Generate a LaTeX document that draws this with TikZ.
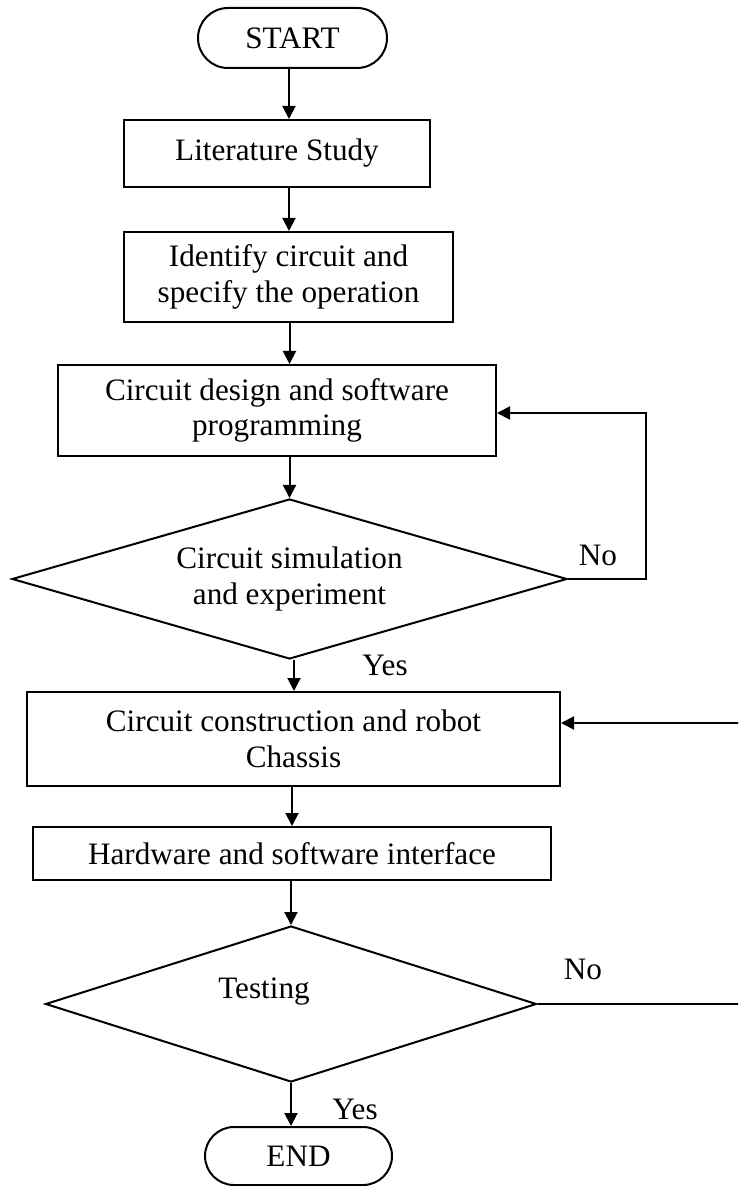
\documentclass[tikz,border=0pt]{standalone}
\usepackage{fontspec}
\setmainfont{Liberation Serif}
\usetikzlibrary{shapes.geometric,shapes.misc,arrows.meta}

\tikzset{
  base/.style={draw, line width=1pt, inner sep=0pt, align=center,
    font=\fontsize{15.6}{17.8}\selectfont},
  term/.style={base, rounded rectangle},
  procbox/.style={base, rectangle},
  decision/.style={base, diamond},
  lbl/.style={font=\fontsize{15.6}{17.8}\selectfont, inner sep=0pt},
  arr/.style={line width=1pt, -{Triangle[length=6.5pt,width=6.5pt]}},
  conn/.style={line width=1pt}
}

\begin{document}
\begin{tikzpicture}[x=0.5pt,y=-0.5pt]
  % canvas
  \clip (0,0) rectangle (738,1186);
  \fill[white] (0,0) rectangle (738,1186);

  % process chain
  \node[term, minimum width=94.5pt, minimum height=30pt] (start) at (292.5,38) {START};
  \node[procbox, minimum width=153pt, minimum height=33.5pt] (lit) at (277,153.5) {Literature Study};
  \node[procbox, minimum width=164.5pt, minimum height=45pt] (ident) at (288.5,277)
    {Identify circuit and\\specify the operation};
  \node[procbox, minimum width=219pt, minimum height=45.5pt] (design) at (277,410.5)
    {Circuit design and software\\programming};
  \node[decision, minimum width=277.5pt, minimum height=80pt, aspect=3.47] (sim) at (289.5,579)
    {Circuit simulation\\and experiment};
  \node[procbox, minimum width=266.5pt, minimum height=47pt] (build) at (293.5,739)
    {Circuit construction and robot\\Chassis};
  \node[procbox, minimum width=259pt, minimum height=26.5pt] (hw) at (292,853.5)
    {Hardware and software interface};
  \node[decision, minimum width=245.5pt, minimum height=78pt, aspect=3.15] (test) at (291,1004) {};
  \node[lbl] (testtxt) at (264,992) {Testing};
  \node[term, minimum width=93.5pt, minimum height=29pt] (end) at (298.5,1156) {END};

  % branch labels
  \node[lbl] (no1) at (598,555) {No};
  \node[lbl] (yes1) at (385,665) {Yes};
  \node[lbl] (no2) at (583,969) {No};
  \node[lbl] (yes2) at (355,1109) {Yes};

  % main flow
  \draw[arr] (start.south -| 289,0) -- (289,0 |- lit.north);
  \draw[arr] (lit.south -| 289,0) -- (289,0 |- ident.north);
  \draw[arr] (ident.south -| sim.north) -- (sim.north |- design.north);
  \draw[arr] (design.south -| sim.north) -- (sim.north);
  \draw[arr] (sim.south -| 294,0) -- (294,0 |- build.north);
  \draw[arr] (build.south -| 292,0) -- (292,0 |- hw.north);
  \draw[arr] (hw.south -| test.north) -- (test.north);
  \draw[arr] (test.south) -- (test.south |- end.north);

  % loop back from the first check
  \coordinate (fb) at (646,413);
  \draw[arr] (sim.east) -| (fb) -- (design.east |- fb);

  % loop back from testing
  \coordinate (rb) at (742,723);
  \draw[arr] (test.east) -| (rb) -- (build.east |- rb);
\end{tikzpicture}
\end{document}
